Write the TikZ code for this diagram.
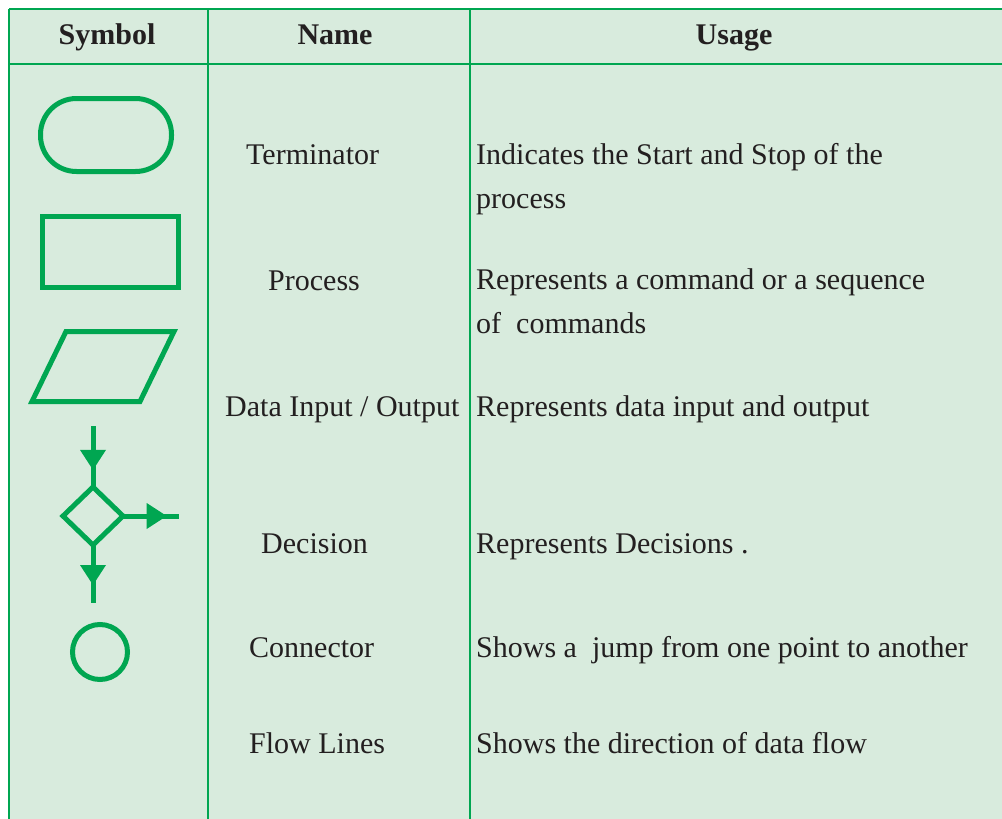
\documentclass[tikz,border=0pt]{standalone}
\usepackage{fontspec}
\setmainfont{Liberation Serif}
\usetikzlibrary{shapes.geometric,arrows.meta,decorations.markings}
\definecolor{tabgreen}{HTML}{00A651}
\definecolor{cellbg}{HTML}{D8EBDD}
\definecolor{ink}{HTML}{231F20}
\begin{document}
\begin{tikzpicture}[x=1pt,y=-1pt,
  grid/.style={draw=tabgreen,line width=2.8pt},
  sym/.style={draw=tabgreen,line width=5pt,inner sep=0pt,outer sep=0pt},
  txt/.style={inner sep=0pt,anchor=base west,text=ink,align=left,
    font=\fontsize{30}{44}\selectfont},
  head/.style={inner sep=0pt,anchor=base,text=ink,
    font=\fontsize{30}{44}\selectfont\bfseries},
  flow/.style={draw=tabgreen,line width=5pt},
  tipat/.style={postaction={decorate},decoration={markings,
    mark=at position #1 with {\arrow{Triangle[length=20pt,width=26pt,line width=0pt]}}}}
]
\useasboundingbox (0,0) rectangle (1002,819);
\fill[cellbg] (9,9) rectangle (1002,819);

% table rules
\draw[grid] (9,9) -- (1002,9);
\draw[grid] (9,64) -- (1002,64);
\draw[grid] (9,9) -- (9,819);
\draw[grid] (208,9) -- (208,819);
\draw[grid] (470,9) -- (470,819);

% header row
\node[head] (hsym) at (107,45) {Symbol};
\node[head] (hname) at (335,45) {Name};
\node[head] (huse) at (734,45) {Usage};

% symbols
\node[sym,rounded corners=36pt,minimum width=131pt,minimum height=73pt] (term) at (106,135) {};
\node[sym,minimum width=136pt,minimum height=71pt] (proc) at (110,252) {};
\draw[sym,line join=miter] (66,331.5) -- (174,331.5) -- (140,401.5) -- (32,401.5) -- cycle;
\node[sym,diamond,line join=miter,minimum width=60pt,minimum height=58pt] (dec) at (93,516) {};
\coordinate (fin) at (93,426);
\coordinate (fout) at (179,516);
\coordinate (fdown) at (93,603);
\draw[flow,tipat=0.72] (fin) -- (dec.north);
\draw[flow,tipat=0.78] (dec.east) -- (fout);
\draw[flow,tipat=0.69] (dec.south) -- (fdown);
\node[sym,circle,minimum size=55pt] (conn) at (100,652) {};

% names
\node[txt] (nterm) at (246,164) {Terminator};
\node[txt] (nproc) at (268,290) {Process};
\node[txt] (nio) at (225,416) {Data Input / Output};
\node[txt] (ndec) at (261,553) {Decision};
\node[txt] (nconn) at (249,657) {Connector};
\node[txt] (nflow) at (249,753) {Flow Lines};

% usage (two-line cells are placed by their last baseline)
\node[txt] (uterm) at (476,208) {Indicates the Start and Stop of the\\process};
\node[txt] (uproc) at (476,333) {Represents a command or a sequence\\of\ \ commands};
\node[txt] (uio) at (476,416) {Represents data input and output};
\node[txt] (udec) at (476,553) {Represents Decisions .};
\node[txt] (uconn) at (476,657) {Shows a\ \ jump from one point to another};
\node[txt] (uflow) at (476,753) {Shows the direction of data flow};
\end{tikzpicture}
\end{document}
